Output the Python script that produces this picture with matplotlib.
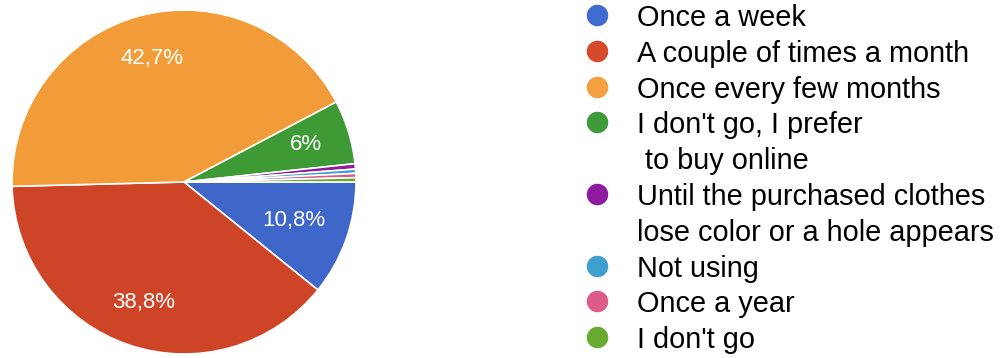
import matplotlib.pyplot as plt
import numpy as np

categories = [
    "Once a week",
    "A couple of times a month",
    "Once every few months",
    "I don't go, I prefer\n to buy online",
    "Until the purchased clothes\nlose color or a hole appears",
    "Not using",
    "Once a year",
    "I don't go",
]
shares = [10.8, 38.8, 42.7, 6.0, 0.5, 0.4, 0.4, 0.4]
slice_labels = ["10,8%", "38,8%", "42,7%", "6%", "", "", "", ""]
colors = ["#3f66c9", "#cd4427", "#f19c38", "#3d9a35",
          "#8e1f9a", "#3d9fcf", "#dc5a8a", "#6aaa2e"]
dot_colors = ["#3f6ad0", "#d44a2a", "#f2a040", "#3f9a3a",
              "#8e1a9e", "#3fa0d0", "#dd5a8a", "#6aaa30"]

W, H = 1003, 358
plt.rcParams["font.family"] = ["Liberation Sans", "DejaVu Sans"]
fig = plt.figure(figsize=(W / 100, H / 100), dpi=100)

# pie, centre (184, 182) px from top-left, radius 172 px
cx, cy, r = 184, 182, 172
ax = fig.add_axes([(cx - r) / W, (H - cy - r) / H, 2 * r / W, 2 * r / H])
wedges, _ = ax.pie(shares, colors=colors, startangle=0, counterclock=False,
                   wedgeprops=dict(edgecolor="white", linewidth=1.2))
ax.set_xlim(-1, 1)
ax.set_ylim(-1, 1)
ax.set_aspect("equal")
for w, lab in zip(wedges, slice_labels):
    if not lab:
        continue
    ang = np.deg2rad((w.theta1 + w.theta2) / 2)
    d = 0.68 if lab == "10,8%" else 0.74
    ax.text(d * np.cos(ang), d * np.sin(ang), lab, ha="center", va="center",
            color="white", fontsize=16)

# legend drawn on a pixel-coordinate overlay
lg = fig.add_axes([0, 0, 1, 1])
lg.set_xlim(0, W)
lg.set_ylim(H, 0)
lg.axis("off")
row = 0
for name, c in zip(categories, dot_colors):
    lines = name.split("\n")
    base = 26 + row * 35.8
    lg.plot(597, base - 11, "o", ms=15.5, color=c, mec="none")
    for k, line in enumerate(lines):
        lg.text(637, base + k * 35.8, line, fontsize=20.8, va="baseline",
                ha="left", color="black")
    row += len(lines)

fig.savefig("out.png", dpi=100)
